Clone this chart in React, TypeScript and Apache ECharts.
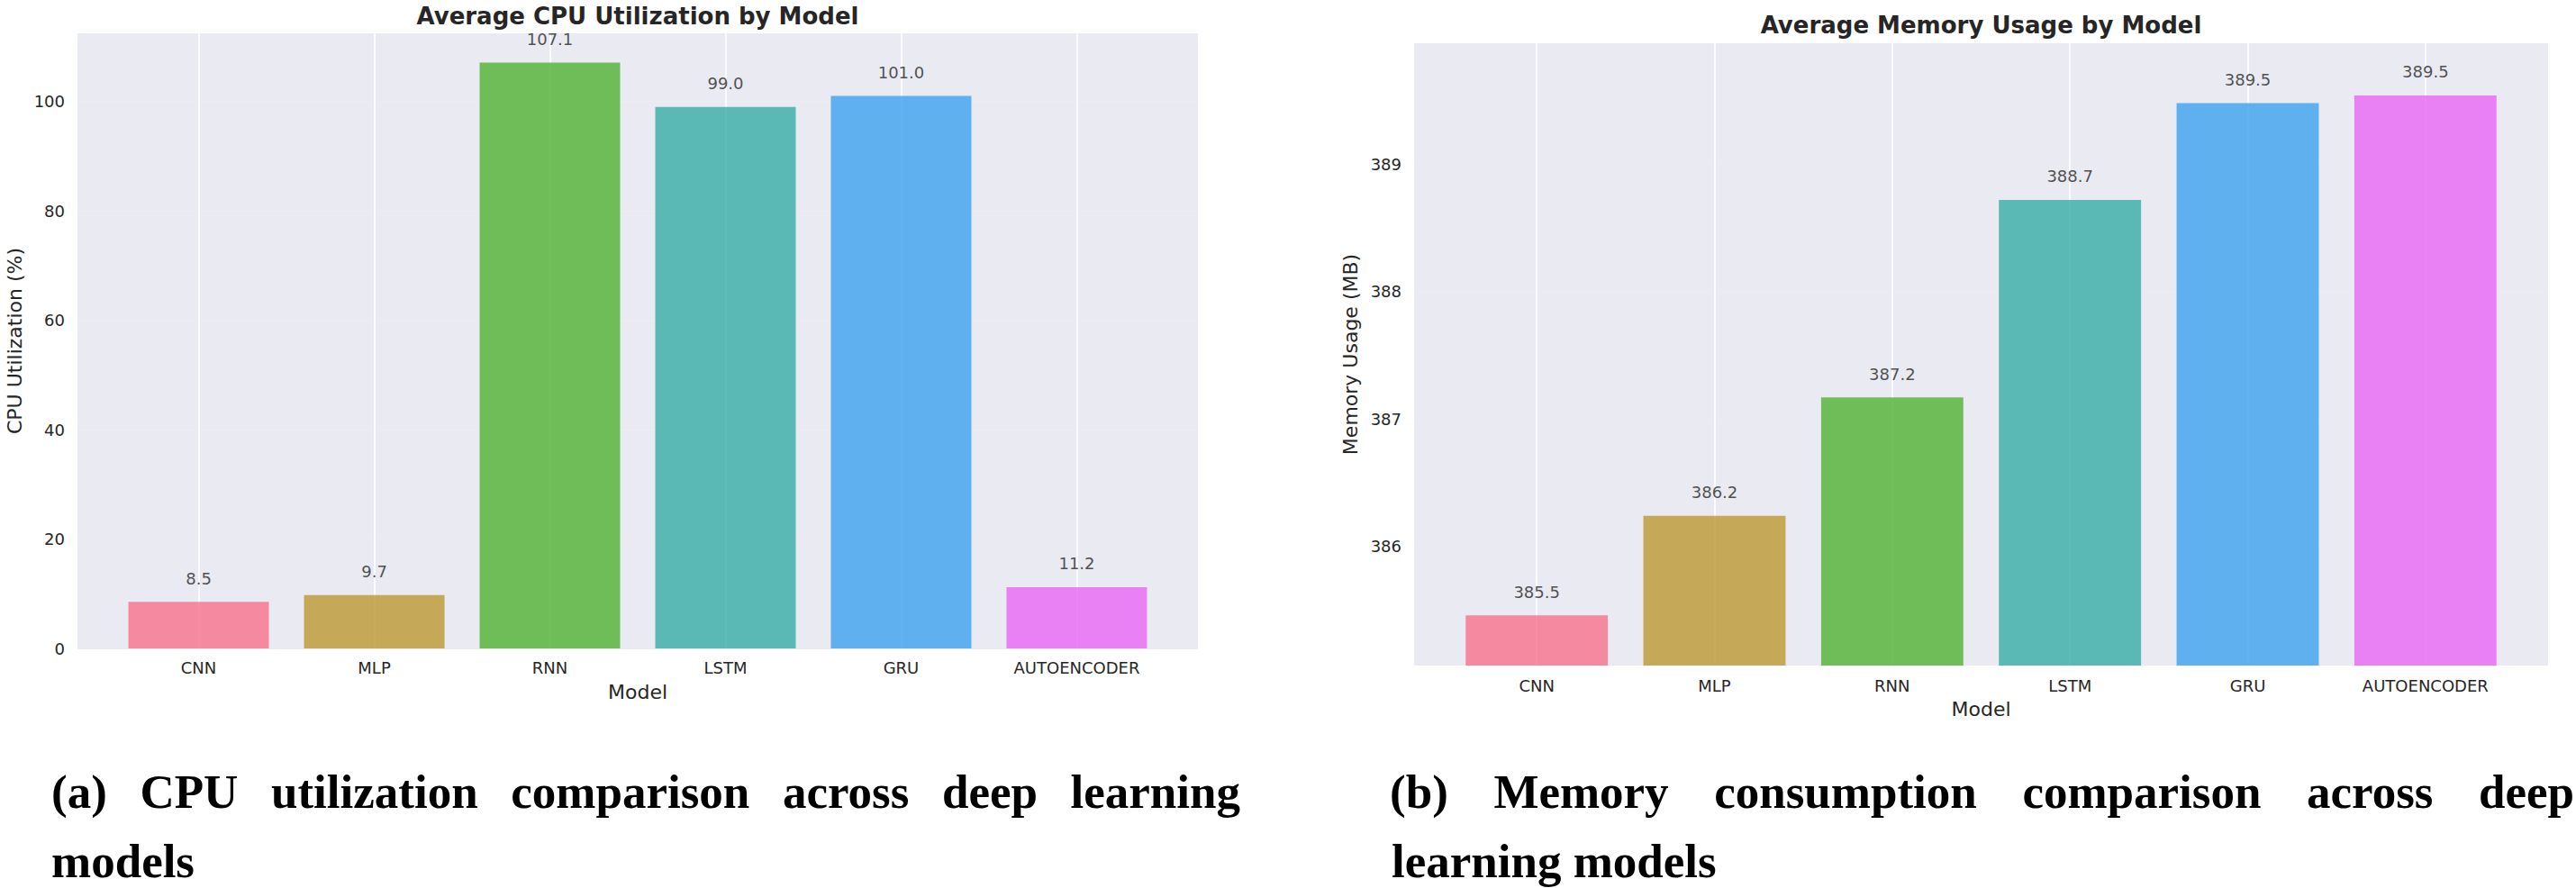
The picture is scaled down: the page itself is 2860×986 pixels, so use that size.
import React, { useEffect, useRef } from 'react';
import * as echarts from 'echarts';

const models = ['CNN', 'MLP', 'RNN', 'LSTM', 'GRU', 'AUTOENCODER'];
const cpuValues = [8.5, 9.74, 107.1, 99.0, 101.0, 11.2];
const memValues = [385.46, 386.24, 387.17, 388.72, 389.48, 389.54];
const cpuTicks = [0, 20, 40, 60, 80, 100];
const memTicks = [386, 387, 388, 389];
const cpuRange = [0, 112.455];
const memRange = [385.065, 389.95];
const barColors = ['#F77189', '#BB9832', '#50B131', '#36ADA4', '#3BA3EC', '#E866F4'];
const titles = ['Average CPU Utilization by Model', 'Average Memory Usage by Model'];
const yNames = ['CPU Utilization (%)', 'Memory Usage (MB)'];
const xName = 'Model';
const captionA1 = ['(a)', 'CPU', 'utilization', 'comparison', 'across', 'deep', 'learning'];
const captionA2 = 'models';
const captionB1 = ['(b)', 'Memory', 'consumption', 'comparison', 'across', 'deep'];
const captionB2 = 'learning models';

const TXT = '#262626';
const FONT = 'DejaVu Sans';
const BG = '#EAEAF2';
const HGRID = '#EFEBF1';

const panels = [
  { left: 86, top: 37, width: 1244, height: 683, titleTop: 5, xLabelMargin: 12, yNameGap: 59 },
  { left: 1570, top: 48, width: 1259, height: 691, titleTop: 15, xLabelMargin: 13, yNameGap: 60 },
];

const CAP_FONT = 'bold 53px "Liberation Serif"';

function measure(word: string): number {
  const ctx = document.createElement('canvas').getContext('2d');
  if (!ctx) return word.length * 26;
  ctx.font = CAP_FONT;
  return ctx.measureText(word).width;
}

function capText(text: string, x: number, y: number) {
  return {
    type: 'text',
    x,
    y,
    style: {
      text,
      fill: '#000',
      fontFamily: 'Liberation Serif',
      fontWeight: 'bold',
      fontSize: 53,
      align: 'left',
      verticalAlign: 'middle',
    },
  };
}

function justify(words: string[], x0: number, x1: number, y: number) {
  const ws = words.map(measure);
  const total = ws.reduce((a, b) => a + b, 0);
  const gap = (x1 - x0 - total) / (words.length - 1);
  let x = x0;
  return words.map((w, i) => {
    const el = capText(w, x, y);
    x += ws[i] + gap;
    return el;
  });
}

export default function App() {
  const ref = useRef<HTMLDivElement>(null);
  useEffect(() => {
    if (!ref.current) return;
    const chart = echarts.init(ref.current, undefined, { renderer: 'svg' });

    const grid: any[] = [];
    const xAxis: any[] = [];
    const yAxis: any[] = [];
    const series: any[] = [];
    const title: any[] = [];

    const datasets = [
      { values: cpuValues, ticks: cpuTicks, range: cpuRange },
      { values: memValues, ticks: memTicks, range: memRange },
    ];

    panels.forEach((p, i) => {
      const d = datasets[i];
      const band = p.width / 6.38;
      const g0 = grid.length;
      grid.push({
        left: p.left, top: p.top, width: p.width, height: p.height,
        show: true, backgroundColor: BG, borderWidth: 0, containLabel: false,
      });
      grid.push({
        left: p.left + 0.19 * band, top: p.top, width: 6 * band, height: p.height,
        show: false, containLabel: false,
      });
      // background grid axes
      xAxis.push({ type: 'value', gridIndex: g0, min: 0, max: 1, show: false });
      yAxis.push({
        type: 'value', gridIndex: g0, min: d.range[0], max: d.range[1],
        axisLine: { show: false },
        splitLine: { show: false },
        axisTick: {
          show: true, inside: true, length: p.width, customValues: d.ticks,
          lineStyle: { color: HGRID, width: 1.2 },
        },
        axisLabel: {
          customValues: d.ticks, color: TXT, fontSize: 18, fontFamily: FONT, margin: 14,
        },
        name: yNames[i], nameLocation: 'middle', nameGap: p.yNameGap,
        nameTextStyle: { color: TXT, fontSize: 22, fontFamily: FONT },
      });
      // bar grid axes
      xAxis.push({
        type: 'category', gridIndex: g0 + 1, data: models,
        axisLine: { show: false },
        axisTick: {
          show: true, alignWithLabel: true, inside: true, length: p.height,
          lineStyle: { color: '#FFFFFF', width: 1.6 },
        },
        axisLabel: { color: TXT, fontSize: 18, fontFamily: FONT, margin: p.xLabelMargin },
        splitLine: { show: false },
        name: xName, nameLocation: 'middle', nameGap: 37,
        nameTextStyle: { color: TXT, fontSize: 22, fontFamily: FONT },
      });
      yAxis.push({
        type: 'value', gridIndex: g0 + 1, min: d.range[0], max: d.range[1], show: false,
        splitLine: { show: false },
      });
      series.push({
        type: 'bar',
        xAxisIndex: g0 + 1,
        yAxisIndex: g0 + 1,
        barWidth: '80%',
        data: d.values.map((v, k) => ({
          value: v,
          itemStyle: { color: barColors[k], opacity: 0.8 },
        })),
        label: {
          show: true, position: 'top', distance: 17,
          color: TXT, fontSize: 18, fontFamily: FONT,
          formatter: (pp: any) => Number(pp.value).toFixed(1),
        },
      });
      title.push({
        text: titles[i],
        left: p.left + p.width / 2,
        top: p.titleTop,
        textAlign: 'center',
        padding: 0,
        textStyle: { color: TXT, fontSize: 26, fontWeight: 'bold', fontFamily: FONT },
      });
    });

    const graphic: any[] = [
      ...justify(captionA1, 57, 1377, 879),
      capText(captionA2, 57, 956),
      ...justify(captionB1, 1543, 2858, 879),
      capText(captionB2, 1545, 956),
    ];

    chart.setOption({
      animation: false,
      backgroundColor: '#FFFFFF',
      title,
      grid,
      xAxis,
      yAxis,
      series,
      graphic,
    });
    return () => chart.dispose();
  }, []);
  return (
    <div
      ref={ref}
      style={{ position: 'absolute', left: 0, top: 0, width: 2860, height: 986 }}
    />
  );
}
